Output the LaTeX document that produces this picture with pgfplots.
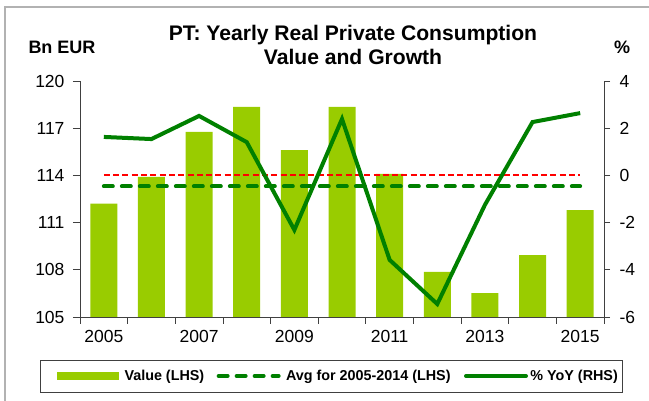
\documentclass[border=0pt]{standalone}
\usepackage{pgfplots}
\pgfplotsset{compat=1.18}
\usepackage{fontspec}
\setmainfont{Liberation Sans}
\definecolor{barcol}{HTML}{99CC00}
\definecolor{lincol}{HTML}{008000}
\definecolor{redline}{HTML}{FF0000}
\definecolor{axcol}{HTML}{404040}
\begin{document}
\begin{tikzpicture}[x=1pt,y=1pt]
\path[use as bounding box] (0,0) rectangle (649,401);
\draw[gray!60, line width=1.5pt] (5,0) -- (5,394) -- (649,394);
\node[font=\bfseries\fontsize{21.1}{24.5}\selectfont, align=center] at (353,356) {PT: Yearly Real Private Consumption\\Value and Growth};
\node[font=\bfseries\fontsize{18}{20}\selectfont] at (62,354) {Bn EUR};
\node[font=\bfseries\fontsize{18}{20}\selectfont] at (622,354) {\%};
\begin{axis}[
  at={(80pt,84pt)}, anchor=south west,
  width=524pt, height=236pt, scale only axis,
  xmin=-0.5, xmax=10.5, ymin=105, ymax=120,
  axis x line*=bottom, axis y line*=left,
  axis line style={axcol, line width=0.8pt, -},
  ytick={105,108,...,120},
  tick align=outside, major tick length=7pt,
  tick style={axcol, line width=0.8pt},
  xtick={-0.5,0.5,...,10.5}, xticklabels={},
  extra x ticks={0,2,4,6,8,10},
  extra x tick labels={2005,2007,2009,2011,2013,2015},
  extra x tick style={major tick length=0pt},
  ticklabel style={font=\fontsize{17.5}{20}\selectfont},
  xticklabel style={yshift=-10pt},
  yticklabel style={xshift=-5pt},
  /pgf/number format/assume math mode=true,
  clip=false,
]
\addplot[ybar, bar width=27pt, fill=barcol, draw=none, bar shift=0pt] coordinates {
(0,112.2) (1,113.9) (2,116.76) (3,118.35) (4,115.6) (5,118.35) (6,114.1) (7,107.86) (8,106.52) (9,108.94) (10,111.8)};
\addplot[color=lincol, line width=4pt, line cap=round, dash pattern=on 9pt off 9pt] coordinates {(0,113.3) (10,113.3)};
\end{axis}
\begin{axis}[
  at={(80pt,84pt)}, anchor=south west,
  width=524pt, height=236pt, scale only axis,
  xmin=-0.5, xmax=10.5, ymin=-6, ymax=4,
  axis x line=none, axis y line*=right,
  axis line style={axcol, line width=0.8pt, -},
  ytick={-6,-4,...,4},
  tick align=outside, major tick length=6pt,
  tick style={axcol, line width=0.8pt},
  ticklabel style={font=\fontsize{17.5}{20}\selectfont},
  yticklabel style={xshift=6pt},
  /pgf/number format/assume math mode=true,
  clip=false,
  legend style={at={(0.4805,-0.25)}, anchor=center, draw=axcol, line width=0.8pt,
    font=\bfseries\fontsize{14.35}{16}\selectfont, legend columns=3,
    column sep=0pt, nodes={inner xsep=0pt},
    inner xsep=5pt, inner ysep=8pt},
  legend cell align=left,
]
\addplot[color=redline, line width=2pt, dash pattern=on 6pt off 3.3pt, forget plot] coordinates {(0,0) (10,0)};
\addplot[color=lincol, line width=4pt, forget plot] coordinates {
(0,1.63) (1,1.54) (2,2.52) (3,1.41) (4,-2.31) (5,2.39) (6,-3.58) (7,-5.45) (8,-1.25) (9,2.26) (10,2.64)};
\addlegendimage{legend image code/.code={\path (-11pt,0pt) (67pt,0pt); \fill[barcol] (0pt,-3.5pt) rectangle (61pt,3.5pt);}}
\addlegendentry{Value (LHS)}
\addlegendimage{legend image code/.code={\path (-12pt,0pt) (69pt,0pt); \draw[lincol, line width=4pt, line cap=round, dash pattern=on 9pt off 9pt] (2pt,0pt) -- (62pt,0pt);}}
\addlegendentry{Avg for 2005-2014 (LHS)}
\addlegendimage{legend image code/.code={\path (-13pt,0pt) (66pt,0pt); \draw[lincol, line width=4pt, line cap=round] (2pt,0pt) -- (62pt,0pt);}}
\addlegendentry{\% YoY (RHS)}
\end{axis}
\end{tikzpicture}
\end{document}
